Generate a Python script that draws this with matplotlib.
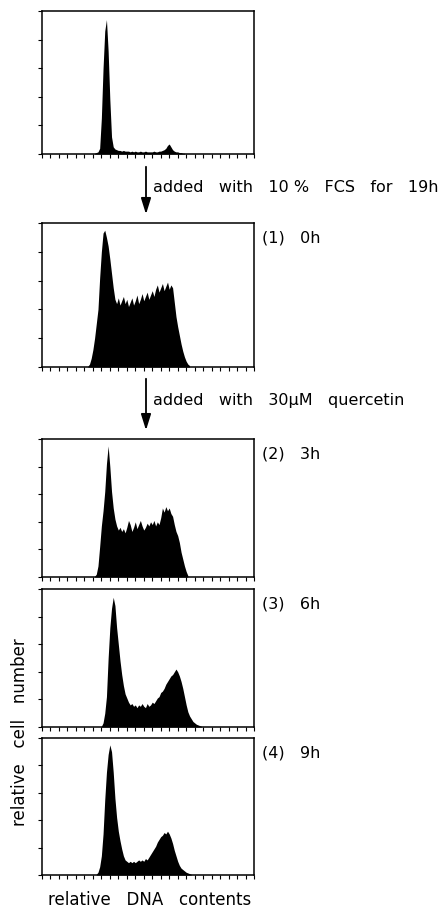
import numpy as np
import matplotlib.pyplot as plt
from matplotlib.patches import FancyArrowPatch

# histogram data: start channel, 2-channel bins, height in % of full scale
step = 2
p1_start = 62
p1_counts = [0.5, 1, 1.5, 4, 25, 60, 86, 94, 72, 38, 12, 5, 3.5, 3, 2.5, 2.5, 2, 2.5, 2, 2,
             2, 1.5, 2, 1.5, 2, 1.5, 1.5, 2, 1.5, 1.5, 2, 1.5, 1.5, 1.5, 1.5, 2, 1.5, 1.5, 2, 2,
             2.5, 3, 4, 6, 7, 5, 3, 2, 1.5, 1.5, 1, 1, 0.5, 0.5]
p2_start = 54
p2_counts = [0.5, 2, 6, 12, 20, 30, 40, 62, 80, 93, 95, 90, 84, 75, 65, 55, 47, 44, 48, 43,
             46, 49, 44, 47, 42, 45, 48, 43, 46, 50, 44, 47, 51, 46, 49, 52, 47, 50, 53, 49,
             54, 57, 52, 55, 58, 53, 56, 59, 54, 57, 55, 45, 35, 28, 22, 16, 11, 7, 4, 2, 1]
p3_start = 62
p3_counts = [0.5, 2, 8, 22, 37, 48, 62, 82, 95, 80, 62, 50, 42, 37, 34, 36, 33, 35, 32, 36,
             41, 38, 33, 36, 40, 35, 38, 41, 37, 34, 36, 39, 37, 40, 38, 41, 37, 40, 38, 43,
             50, 47, 51, 48, 50, 46, 44, 38, 33, 30, 25, 18, 13, 8, 4, 1]
p4_start = 70
p4_counts = [0.5, 3, 10, 22, 50, 72, 86, 94, 88, 72, 60, 48, 38, 30, 24, 21, 18, 16, 17, 15,
             16, 14, 16, 15, 17, 15, 14, 17, 15, 16, 18, 17, 19, 21, 22, 25, 26, 28, 31, 33,
             35, 37, 38, 40, 42, 40, 37, 33, 28, 22, 16, 11, 8, 6, 4, 3, 2, 1.5, 1, 0.5]
p5_start = 64
p5_counts = [0.5, 2, 6, 14, 30, 55, 75, 88, 95, 90, 75, 56, 42, 32, 25, 19, 14, 11, 10, 9,
             10, 9, 10, 9, 10, 11, 10, 11, 10, 12, 11, 13, 15, 17, 19, 21, 24, 26, 28, 29,
             31, 30, 32, 30, 27, 23, 18, 14, 10, 7, 5, 4, 3, 2, 1.5, 1, 0.5]

starts = [p1_start, p2_start, p3_start, p4_start, p5_start]
counts = [p1_counts, p2_counts, p3_counts, p4_counts, p5_counts]
labels = [None, "(1)   0h", "(2)   3h", "(3)   6h", "(4)   9h"]
arrow_texts = ["added   with   10 %   FCS   for   19h", "added   with   30\u03bcM   quercetin"]

x_ticks = np.arange(0, 251, 10)
y_ticks = np.arange(0, 101, 20)

W, H = 445, 920
# panel boxes in pixels: (top, bottom)
boxes = [(12, 155), (224, 368), (440, 578), (590, 728), (739, 876)]
left_px, right_px = 42, 254

fig = plt.figure(figsize=(W / 100, H / 100), dpi=100)
font = "DejaVu Sans"
fs = 11.5


def fy(py):
    return 1 - py / H


for i, (top, bot) in enumerate(boxes):
    ax = fig.add_axes([left_px / W, fy(bot), (right_px - left_px) / W, (bot - top) / H])
    ch = starts[i] + step * np.arange(len(counts[i]))
    ax.fill_between(ch, 0, counts[i], color="black", lw=0)
    ax.set_xlim(0, 250)
    ax.set_ylim(0, 100)
    ax.set_xticks(x_ticks)
    ax.set_yticks(y_ticks)
    ax.set_xticklabels([])
    ax.set_yticklabels([])
    ax.tick_params(direction="out", length=3, width=0.8, color="black")
    for s in ax.spines.values():
        s.set_linewidth(1.1)
    if labels[i]:
        fig.text(262 / W, fy(top + 14), labels[i], fontsize=fs, family=font,
                 ha="left", va="center")

# arrows between panels
arrows = [(165, 218, 188), (377, 434, 401)]
for (y0, y1, ty), txt in zip(arrows, arrow_texts):
    arr = FancyArrowPatch((146 / W, fy(y0)), (146 / W, fy(y1)), transform=fig.transFigure,
                          arrowstyle="-|>,head_length=0.8,head_width=0.25", lw=1.3,
                          color="black", mutation_scale=12)
    fig.add_artist(arr)
    fig.text(153 / W, fy(ty), txt, fontsize=fs, family=font, ha="left", va="center")

fig.text(20 / W, fy(732), "relative   cell   number", rotation=90, fontsize=12,
         family=font, ha="center", va="center")
fig.text(150 / W, fy(900), "relative   DNA   contents", fontsize=12, family=font,
         ha="center", va="center")

fig.savefig("out.png", dpi=100)
